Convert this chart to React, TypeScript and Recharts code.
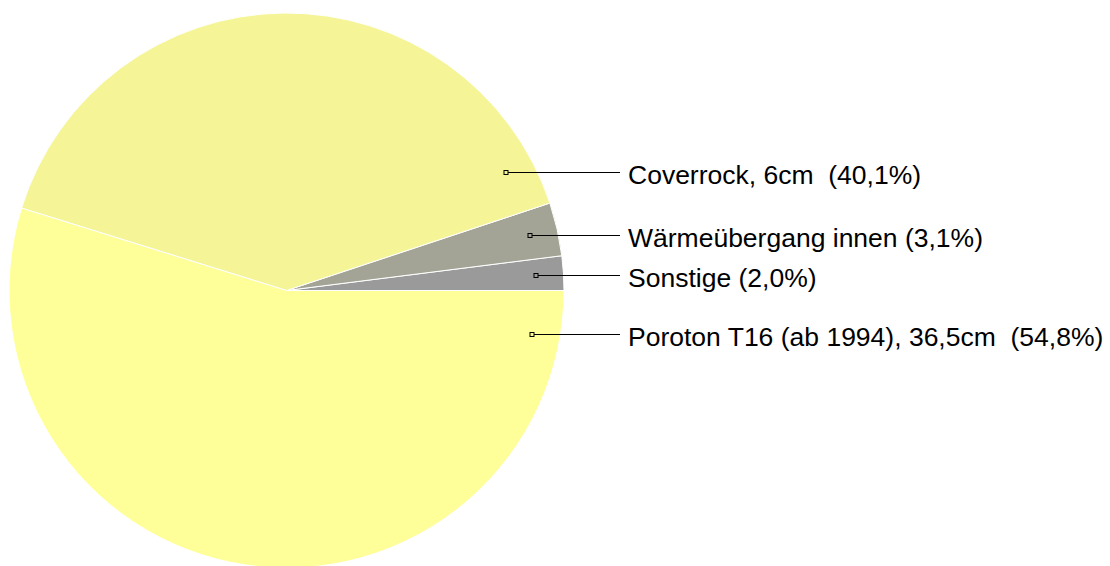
import React from "react";
import { PieChart, Pie, Cell } from "recharts";

const names = ["Sonstige", "Wärmeübergang innen", "Coverrock, 6cm ", "Poroton T16 (ab 1994), 36,5cm "];
const values = [2.0, 3.1, 40.1, 54.8];
const percentLabels = ["(2,0%)", "(3,1%)", "(40,1%)", "(54,8%)"];
const colors = ["#9a9a9a", "#a4a496", "#f5f598", "#ffff99"];

const data = names.map((n, i) => ({ name: n, value: values[i] }));

const RAD = Math.PI / 180;

const renderLabel = (props: any) => {
  const { cx, cy, outerRadius, index } = props;
  let start = props.startAngle;
  let end = props.endAngle;
  if (start === undefined || end === undefined) {
    const total = values.reduce((a, b) => a + b, 0);
    const before = values.slice(0, index).reduce((a, b) => a + b, 0);
    start = (before / total) * 360;
    end = ((before + values[index]) / total) * 360;
  }
  const lo = Math.min(start, end);
  const hi = Math.max(start, end);
  let angle = (lo + hi) / 2;
  const margin = 10;
  if (hi - lo > 2 * margin) {
    if (lo + margin > 0 && hi - margin < 360) {
      const dLo = lo + margin;
      const dHi = hi - margin - 360;
      angle = Math.abs(dLo) <= Math.abs(dHi) ? dLo : dHi;
    }
  }
  const r = outerRadius * 0.9;
  const mx = Math.round(cx + r * Math.cos(angle * RAD));
  const my = Math.round(cy - r * Math.sin(angle * RAD)) + 0.5;
  const lineEnd = 620;
  return (
    <g key={`lbl-${index}`}>
      <line x1={mx} y1={my} x2={lineEnd} y2={my} stroke="#000" strokeWidth={1} />
      <rect x={mx - 2} y={my - 2} width={4} height={4} fill={colors[index]} stroke="#000" strokeWidth={1} />
      <text
        x={lineEnd + 8}
        y={my + 11}
        fill="#000"
        fontSize={26.5}
        fontFamily="Liberation Sans, Arial, sans-serif"
        textAnchor="start"
        style={{ whiteSpace: "pre" }}
      >
        {`${names[index]} ${percentLabels[index]}`}
      </text>
    </g>
  );
};

export default function App() {
  return (
    <div style={{ position: "fixed", left: 0, top: 0, width: 1110, height: 566, background: "#fff" }}>
      <PieChart width={1110} height={566} margin={{ top: 0, right: 0, bottom: 0, left: 0 }}>
        <Pie
          data={data}
          dataKey="value"
          nameKey="name"
          cx={286.5}
          cy={290.5}
          outerRadius={277.5}
          startAngle={0}
          endAngle={360}
          stroke="#ffffff"
          strokeWidth={1}
          label={renderLabel}
          labelLine={false}
          isAnimationActive={false}
        >
          {data.map((d, i) => (
            <Cell key={d.name} fill={colors[i]} />
          ))}
        </Pie>
      </PieChart>
    </div>
  );
}
